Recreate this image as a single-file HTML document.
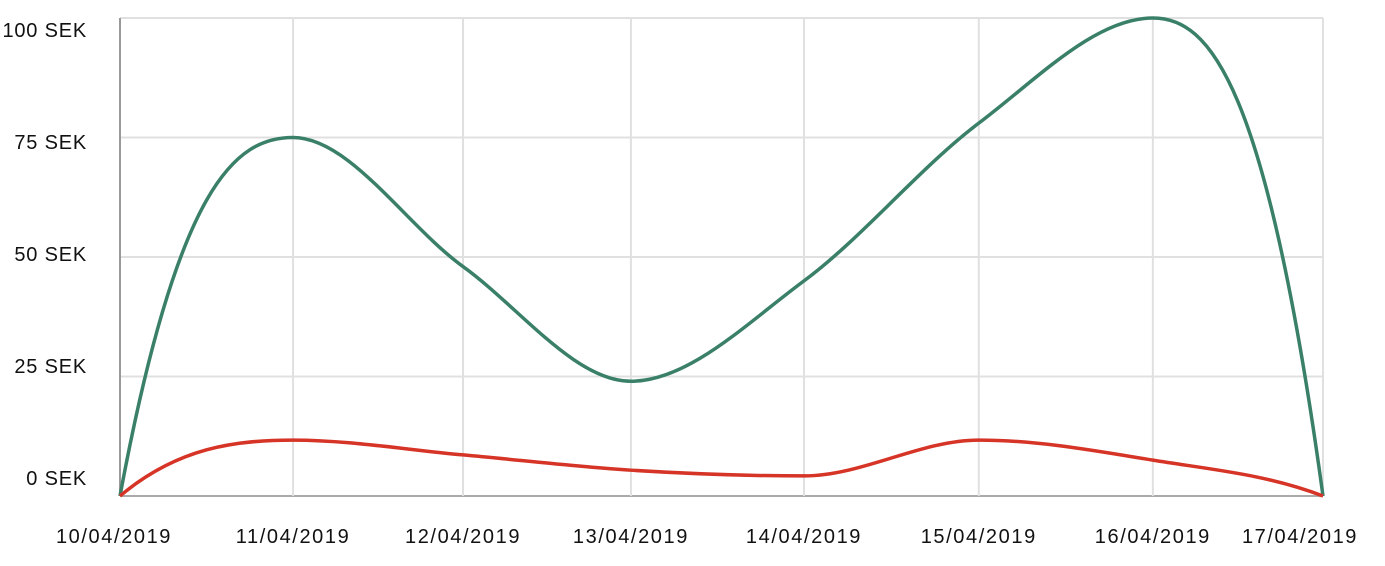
<!DOCTYPE html>
<html><head><meta charset="utf-8"><style>
body{margin:0;background:#fff}
svg{display:block}
text{font-family:"Liberation Sans",sans-serif;font-size:20px;fill:#111}
.xl{letter-spacing:1.6px}
.yl{letter-spacing:0.8px}
</style></head><body>
<svg id="chart" width="1385" height="566"></svg>
<script>
const categories=["10/04/2019","11/04/2019","12/04/2019","13/04/2019","14/04/2019","15/04/2019","16/04/2019","17/04/2019"];
const dayOffsets=[0,1.007,1.996,2.973,3.98,4.997,6.01,7];
const greenValues=[0,75,48,24,45,78,100,0];
const redValues=[0,11.7,8.6,5.4,4.2,11.7,7.5,0];
const yTicks=[0,25,50,75,100];
const yTickLabels=["0 SEK","25 SEK","50 SEK","75 SEK","100 SEK"];

const NS="http://www.w3.org/2000/svg";
const svg=document.getElementById('chart');
const X0=120,X1=1323,Y0=496,Y1=18;
const xs=d=>X0+d/7*(X1-X0);
const ys=v=>Y0-v/100*(Y0-Y1);
function mk(t,a){const e=document.createElementNS(NS,t);for(const k in a)e.setAttribute(k,a[k]);svg.appendChild(e);return e;}
const labelY=[485,373,261,149,37];
yTicks.forEach((v,i)=>{
  const l=mk('line',{x1:X0,x2:X1,y1:ys(v),y2:ys(v),stroke:i==0?'#aaa':'#e0e0e0','stroke-width':2});
  
  
  const t=mk('text',{x:87,y:labelY[i],'text-anchor':'end','class':'yl'});
  t.textContent=yTickLabels[i];
  
  
});
categories.forEach((c,i)=>{
  const x=xs(dayOffsets[i]);
  if(i>0){const l=mk('line',{x1:x,x2:x,y1:Y1,y2:Y0,stroke:'#e0e0e0','stroke-width':2});
  
  }
  let lx=x;
  if(i==0)lx=x-6;
  if(i==categories.length-1)lx=Math.min(x,1300);
  const t=mk('text',{x:lx,y:543,'text-anchor':'middle','class':'xl'});
  t.textContent=c;
  
  
});
const ax=mk('line',{x1:X0,x2:X0,y1:Y1,y2:Y0,stroke:'#999','stroke-width':2});


function monotone(px,py){
  const n=px.length,d=[],m=[];
  for(let i=0;i<n-1;i++)d.push((py[i+1]-py[i])/(px[i+1]-px[i]));
  for(let i=0;i<n;i++){
    if(i==0||i==n-1){m.push(0);continue;}
    if(d[i-1]*d[i]<=0){m.push(0);continue;}
    const h0=px[i]-px[i-1],h1=px[i+1]-px[i];
    const p=(d[i-1]*h1+d[i]*h0)/(h0+h1);
    m.push(Math.sign(d[i])*Math.min(Math.abs(d[i-1]),Math.abs(d[i]),0.5*Math.abs(p))*2);
  }
  m[0]=2.6*d[0]-m[1];m[n-1]=2.6*d[n-2]-m[n-2];
  let s='M'+px[0]+','+py[0];
  for(let i=0;i<n-1;i++){const h=(px[i+1]-px[i])/3;
    s+=' C'+(px[i]+h)+','+(py[i]+m[i]*h)+' '+(px[i+1]-h)+','+(py[i+1]-m[i+1]*h)+' '+px[i+1]+','+py[i+1];}
  return s;
}
function series(vals,color,name){
  const px=dayOffsets.map(xs),py=vals.map(ys);
  const p=mk('path',{d:monotone(px,py),fill:'none',stroke:color,'stroke-width':3.5});
  
  
}
series(greenValues,'#3a8068','green-series-line');
series(redValues,'#d63426','red-series-line');
</script>
</body></html>
